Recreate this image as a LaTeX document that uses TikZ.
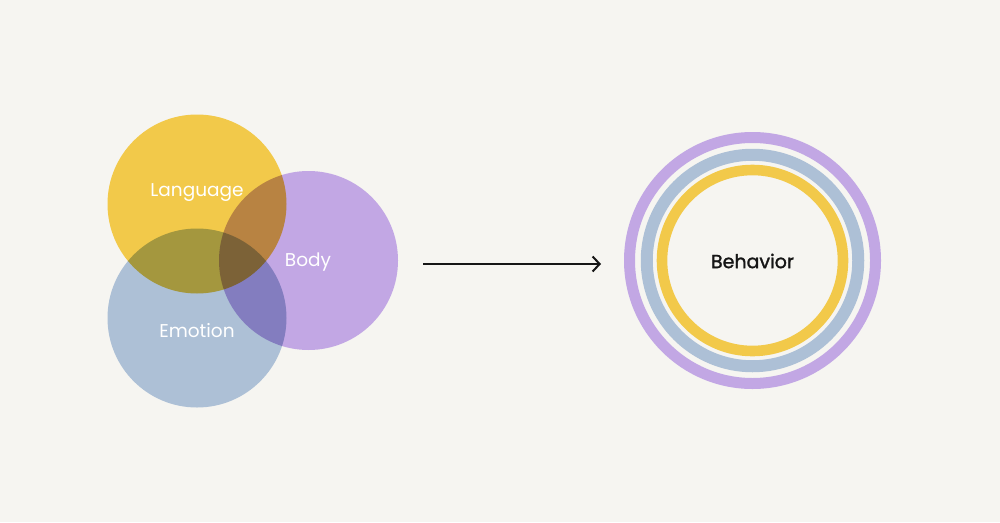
\documentclass[tikz,border=0pt]{standalone}
\usepackage{fontspec}
\setmainfont{Poppins}
\newfontfamily\behfont{Poppins}[FakeBold=1.4]
\usetikzlibrary{arrows.meta}
\definecolor{bg}{HTML}{F6F5F1}
\definecolor{langcol}{HTML}{F2C94A}
\definecolor{bodycol}{HTML}{C2A7E4}
\definecolor{emocol}{HTML}{ADC0D6}
\definecolor{ink}{HTML}{161616}
\begin{document}
\begin{tikzpicture}[x=1pt, y=-1pt,
  venn/.style={circle, minimum size=179pt, inner sep=0pt, blend mode=multiply},
  ring/.style={circle, draw, inner sep=0pt},
  word/.style={text=white, font=\fontsize{18.5}{20}\selectfont},
  ]

  % Background
  \useasboundingbox[fill=bg] (0,0) rectangle (1000,522);

  % Three overlapping circles
  \begin{scope}[transparency group]
    \node[venn, fill=langcol] (L) at (197,204) {};
    \node[venn, fill=emocol] (E) at (197,318) {};
    \node[venn, fill=bodycol] (B) at (308.5,260.5) {};
  \end{scope}

  % Labels
  \node[word] at (197,193) {Language};
  \node[word] at (308,262) {Body};
  \node[word] at (197,331) {Emotion};

  % Arrow
  \coordinate (A0) at (423,264);
  \coordinate (A1) at (601,264);
  \draw[-{Straight Barb[length=7pt, width=15pt]}, line width=2pt, ink] (A0) -- (A1);

  % Rings
  \node[ring, draw=bodycol, line width=11pt, minimum size=246pt] (R1) at (752.5,260.5) {};
  \node[ring, draw=emocol, line width=12pt, minimum size=211.5pt] (R2) at (752.5,260.5) {};
  \node[ring, draw=langcol, line width=10.6pt, minimum size=181pt] (R3) at (752.5,260.5) {};
  \node[text=ink, font=\fontsize{19}{21}\behfont] at (752.5,261) {Behavior};

\end{tikzpicture}
\end{document}
